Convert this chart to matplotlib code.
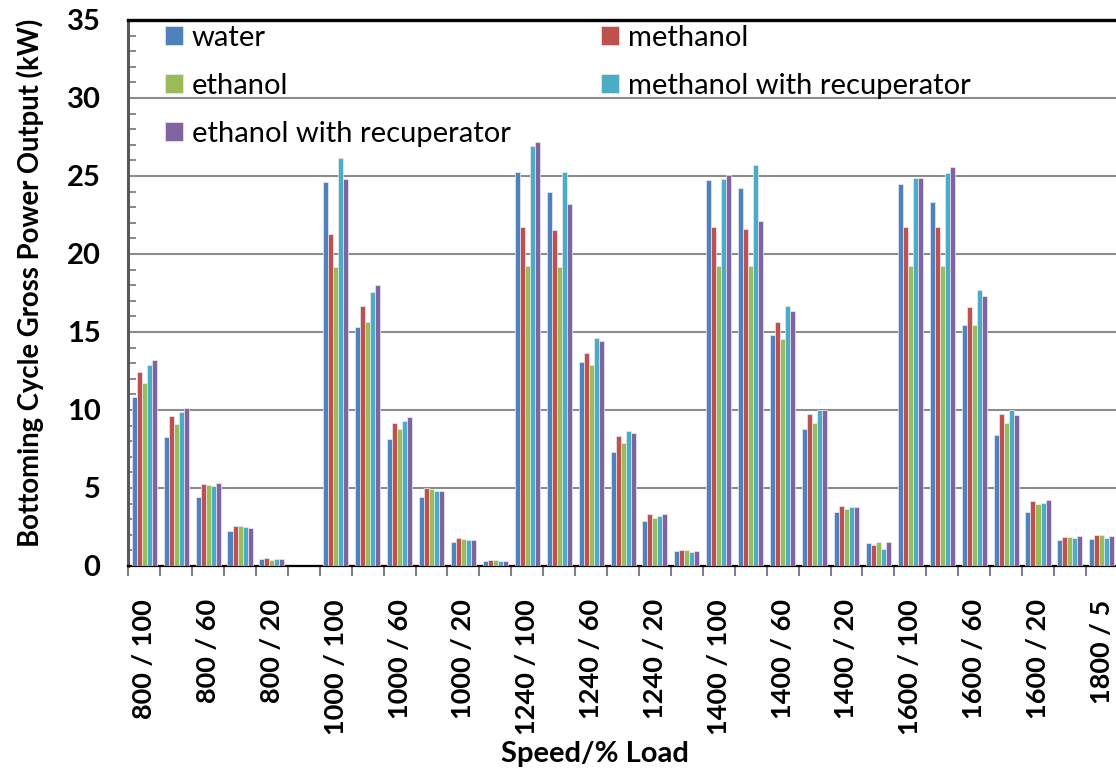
import numpy as np
import matplotlib.pyplot as plt
from matplotlib.ticker import MultipleLocator, FixedLocator

OUTPUT_FILE = "out.png"

plt.rcParams["font.family"] = ["Lato", "DejaVu Sans"]

# categories: speed / % load
categories = [
    "800 / 100", "800 / 80", "800 / 60", "800 / 40", "800 / 20", "800 / 5",
    "1000 / 100", "1000 / 80", "1000 / 60", "1000 / 40", "1000 / 20", "1000 / 5",
    "1240 / 100", "1240 / 80", "1240 / 60", "1240 / 40", "1240 / 20", "1240 / 5",
    "1400 / 100", "1400 / 80", "1400 / 60", "1400 / 40", "1400 / 20", "1400 / 5",
    "1600 / 100", "1600 / 80", "1600 / 60", "1600 / 40", "1600 / 20", "1600 / 5",
    "1800 / 5",
]

water = [10.82, 8.27, 4.40, 2.22, 0.45, 0.0,
         24.64, 15.33, 8.15, 4.45, 1.56, 0.30,
         25.28, 23.98, 13.05, 7.31, 2.91, 0.94,
         24.75, 24.26, 14.78, 8.81, 3.46, 1.45,
         24.47, 23.32, 15.42, 8.38, 3.48, 1.69,
         1.71]
methanol = [12.42, 9.60, 5.24, 2.56, 0.53, 0.0,
            21.28, 16.66, 9.15, 4.98, 1.77, 0.36,
            21.71, 21.54, 13.63, 8.32, 3.31, 1.02,
            21.71, 21.62, 15.64, 9.73, 3.87, 1.34,
            21.75, 21.75, 16.60, 9.77, 4.19, 1.84,
            2.01]
ethanol = [11.70, 9.13, 5.22, 2.54, 0.40, 0.0,
           19.18, 15.64, 8.77, 4.92, 1.71, 0.36,
           19.21, 19.18, 12.88, 7.89, 3.08, 1.02,
           19.23, 19.21, 14.56, 9.15, 3.65, 1.51,
           19.23, 19.23, 15.42, 9.15, 3.97, 1.88,
           1.96]
methanol_rec = [12.87, 9.86, 5.11, 2.48, 0.47, 0.0,
                26.14, 17.54, 9.28, 4.83, 1.66, 0.34,
                26.93, 25.26, 14.61, 8.64, 3.18, 0.87,
                24.83, 25.71, 16.64, 10.03, 3.80, 1.07,
                24.88, 25.18, 17.67, 9.99, 4.06, 1.82,
                1.79]
ethanol_rec = [13.22, 10.16, 5.30, 2.43, 0.47, 0.0,
               24.79, 17.99, 9.58, 4.83, 1.64, 0.34,
               27.17, 23.21, 14.44, 8.55, 3.31, 0.98,
               25.05, 22.10, 16.34, 9.99, 3.80, 1.51,
               24.88, 25.56, 17.30, 9.67, 4.21, 1.92,
               1.94]

series_names = ["water", "methanol", "ethanol",
                "methanol with recuperator", "ethanol with recuperator"]
series_values = [water, methanol, ethanol, methanol_rec, ethanol_rec]
colors = ["#4F81BD", "#C0504D", "#9BBB59", "#4BACC6", "#8064A2"]

W, H = 1116, 771
fig = plt.figure(figsize=(W / 100, H / 100), dpi=100)
ax = fig.add_axes([128.3 / W, 205 / H, 989.5 / W, 546 / H])

x = np.arange(len(categories))
bw = 0.157
handles = []
for i, (name, vals, c) in enumerate(zip(series_names, series_values, colors)):
    b = ax.bar(x + (i - 2) * bw, vals, width=bw, color=c,
               edgecolor="#e9ecf4", linewidth=0.5, label=name, zorder=3)
    handles.append(b)

ax.set_xlim(-0.5, len(categories) - 0.5)
ax.set_ylim(0, 35)
ax.set_axisbelow(True)
ax.yaxis.grid(True, color="#8c8c8c", linewidth=1.5)

# y axis
ax.yaxis.set_major_locator(MultipleLocator(5))
ax.yaxis.set_minor_locator(MultipleLocator(1))
ax.tick_params(axis="y", which="major", length=0, pad=20, labelsize=21)
ax.tick_params(axis="y", which="minor", direction="in", length=6,
               width=1.3, color="#808080")
for t in ax.get_yticklabels():
    t.set_fontweight("bold")

# x axis: labels on every other category, ticks between categories
ax.xaxis.set_major_locator(FixedLocator(x[::2]))
ax.set_xticklabels(categories[::2], rotation=90, fontsize=19.5,
                   fontweight="bold")
ax.xaxis.set_minor_locator(FixedLocator(np.arange(-0.5, len(categories), 1)))
ax.tick_params(axis="x", which="major", length=0, pad=24)
ax.tick_params(axis="x", which="minor", direction="out", length=7,
               width=1.5, color="#808080")

ax.spines["left"].set_color("#595959")
ax.spines["left"].set_linewidth(2.2)
ax.spines["bottom"].set_color("black")
ax.spines["bottom"].set_linewidth(1.6)
ax.spines["top"].set_color("black")
ax.spines["top"].set_linewidth(2.4)
ax.spines["right"].set_visible(False)

fig.text(30 / W, 1 - 283 / H, "Bottoming Cycle Gross Power Output (kW)",
         rotation=90, ha="center", va="center", fontsize=19.8, fontweight="bold")
fig.text(595 / W, 1 - 754 / H, "Speed/% Load", ha="center", va="center",
         fontsize=21, fontweight="bold")

# legend, filled row by row like the original
order = [0, 2, 4, 1, 3]
ax.legend([handles[k] for k in order], [series_names[k] for k in order],
          ncol=2, loc="upper left", bbox_to_anchor=(165 / W, 1 - 25 / H),
          bbox_transform=fig.transFigure, frameon=False, fontsize=21,
          handlelength=0.62, handleheight=0.62, handletextpad=0.3,
          labelspacing=0.75, columnspacing=3.1, borderpad=0, borderaxespad=0)

fig.savefig(OUTPUT_FILE, dpi=100)
print("saved:", OUTPUT_FILE)
